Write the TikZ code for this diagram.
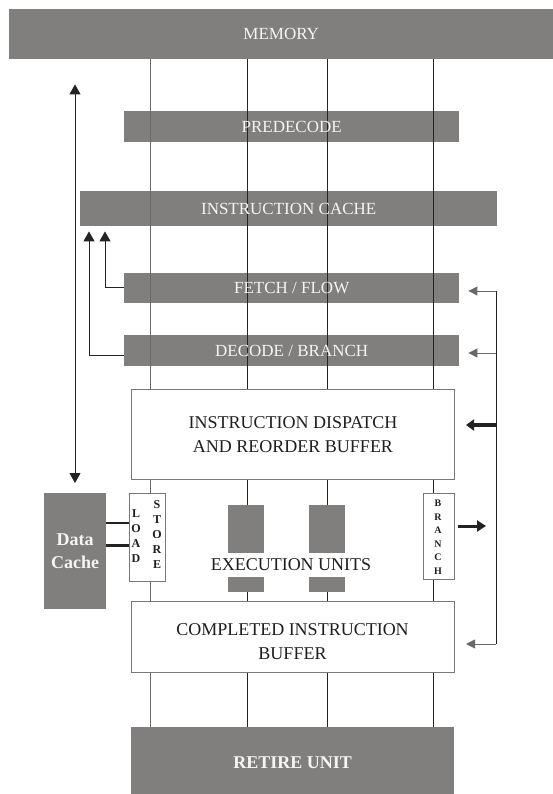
\documentclass[tikz,border=0pt]{standalone}
\usepackage{fontspec}
\setmainfont{Liberation Serif}
\usetikzlibrary{arrows.meta}
\definecolor{boxgray}{RGB}{128,127,125}
\definecolor{wire}{RGB}{35,35,35}
\definecolor{wirelight}{RGB}{105,105,105}
\definecolor{edge}{RGB}{120,120,120}
\definecolor{ink}{RGB}{30,30,30}
\definecolor{paleink}{RGB}{245,245,245}

\begin{document}
\begin{tikzpicture}[x=1pt,y=-1pt,
  graybox/.style={fill=boxgray, draw=none, inner sep=0pt, anchor=north west},
  graytext/.style={inner sep=0pt, text=paleink, font=\fontsize{17}{20}\selectfont},
  whitebox/.style={fill=white, draw=edge, line width=1pt, inner sep=0pt,
    anchor=north west, text=ink, align=center, font=\fontsize{18}{24}\selectfont},
  letters/.style={inner sep=0pt, align=center, text=ink},
  wire/.style={draw=wire, line width=0.9pt},
  wiregray/.style={draw=wirelight, line width=0.9pt},
  arr/.style={wire, -{Triangle[length=9pt,width=9pt]}},
  arrbig/.style={wire, -{Triangle[length=10pt,width=11pt]}},
  arrboth/.style={wire, {Triangle[length=10pt,width=11pt]}-{Triangle[length=10pt,width=11pt]}},
  arrthick/.style={draw=wire, line width=3.5pt, -{Triangle[length=8pt,width=11pt]}},
]
\useasboundingbox (0,0) rectangle (553,794);

% pipeline stages (fills; their labels go on top of the columns below)
\node[graybox, minimum width=544pt, minimum height=50pt] (mem) at (9,9) {};
\node[graybox, minimum width=335pt, minimum height=31pt] (predec) at (124,111) {};
\node[graybox, minimum width=417pt, minimum height=35pt] (icache) at (80,191) {};
\node[graybox, minimum width=335pt, minimum height=30pt] (fetch) at (124,273) {};
\node[graybox, minimum width=335pt, minimum height=31pt] (dec) at (124,335) {};
\node[whitebox, minimum width=323pt, minimum height=90pt] (disp) at (131,389)
  {INSTRUCTION DISPATCH\\AND REORDER BUFFER};

% execution stage
\node[whitebox, minimum width=36pt, minimum height=88pt] (ls) at (129,493) {};
\node[letters, font=\fontsize{12}{15}\selectfont\bfseries] (ldtxt) at (136,536) {L\\O\\A\\D};
\node[letters, font=\fontsize{12}{15}\selectfont\bfseries] (sttxt) at (157,535) {S\\T\\O\\R\\E};
\node[whitebox, minimum width=31pt, minimum height=86pt] (br) at (423,493) {};
\node[letters, font=\fontsize{10}{13.5}\selectfont\bfseries] (brtxt) at (438,537) {B\\R\\A\\N\\C\\H};
\node[graybox, minimum width=36pt, minimum height=48pt] (eua) at (228,505) {};
\node[graybox, minimum width=36pt, minimum height=15pt] (eub) at (228,577) {};
\node[graybox, minimum width=36pt, minimum height=48pt] (euc) at (309,505) {};
\node[graybox, minimum width=36pt, minimum height=15pt] (eud) at (309,577) {};
\node[inner sep=0pt, text=ink, font=\fontsize{18}{20}\selectfont] (eutxt) at (291,565) {EXECUTION UNITS};

\node[graybox, minimum width=62pt, minimum height=116pt, align=center, text=paleink,
  font=\fontsize{18}{23}\selectfont\bfseries] (dc) at (44,493) {Data\\Cache};

% completion and retirement
\node[whitebox, minimum width=323pt, minimum height=71pt] (comp) at (131,601) {};
\node[letters, font=\fontsize{18}{24}\selectfont] (comptxt) at (292.5,642)
  {COMPLETED INSTRUCTION\\BUFFER};
\node[graybox, minimum width=323pt, minimum height=70pt, text=paleink,
  font=\fontsize{18}{22}\selectfont\bfseries] (ret) at (131,727) {RETIRE UNIT};

% data path columns
\coordinate (c1) at (150,0);
\coordinate (c2) at (247,0);
\coordinate (c3) at (327,0);
\coordinate (c4) at (433,0);

\draw[wiregray] (mem.south -| c1) -- (disp.north -| c1);
\draw[wiregray] (disp.south -| c1) -- (ls.north -| c1);
\draw[wiregray] (ls.south -| c1) -- (comp.north -| c1);
\draw[wiregray] (comp.south -| c1) -- (ret.north -| c1);

\draw[wire] (mem.south -| c2) -- (disp.north -| c2);
\draw[wire] (disp.south -| c2) -- (eua.north -| c2);
\draw[wire] (eub.south -| c2) -- (comp.north -| c2);
\draw[wire] (comp.south -| c2) -- (ret.north -| c2);

\draw[wire] (mem.south -| c3) -- (disp.north -| c3);
\draw[wire] (disp.south -| c3) -- (euc.north -| c3);
\draw[wire] (eud.south -| c3) -- (comp.north -| c3);
\draw[wire] (comp.south -| c3) -- (ret.north -| c3);

\draw[wire] (mem.south -| c4) -- (disp.north -| c4);
\draw[wire] (disp.south -| c4) -- (br.north -| c4);
\draw[wire] (br.south -| c4) -- (comp.north -| c4);
\draw[wire] (comp.south -| c4) -- (ret.north -| c4);

% stage labels
\node[graytext] (memtxt) at (mem.center) {MEMORY};
\node[graytext] (predectxt) at (predec.center) {PREDECODE};
\node[graytext] (icachetxt) at (icache.center) {INSTRUCTION CACHE};
\node[graytext] (fetchtxt) at (fetch.center) {FETCH / FLOW};
\node[graytext] (dectxt) at (dec.center) {DECODE / BRANCH};

% memory <-> data cache
\draw[arrboth, shorten <=25pt, shorten >=10pt] (mem.south -| 75,0) -- (dc.north -| 75,0);

% data cache <-> load/store
\draw[draw=wire, line width=2pt] (dc.east |- 0,523) -- (ls.west |- 0,523);
\draw[draw=wire, line width=3pt] (dc.east |- 0,545) -- (ls.west |- 0,545);

% refill paths into the instruction cache
\draw[arrbig, shorten >=5pt] (fetch.west |- 0,287) -| (icache.south -| 105,0);
\draw[arrbig, shorten >=5pt] (dec.west |- 0,355) -| (icache.south -| 89,0);

% branch resolution feedback
\coordinate (busT) at (496,291);
\coordinate (busB) at (496,644);
\coordinate (brout) at (486,526);
\draw[draw=wire, line width=3pt, -{Triangle[length=9pt,width=11pt]}, shorten <=3pt]
  (br.east |- brout) -- (brout);
\draw[wire] (busT) -- (busB);
\draw[arr, draw=wirelight, shorten >=9pt] (busT) -- (fetch.east |- busT);
\draw[arr, draw=wirelight, shorten >=9pt] (busT |- 0,353) -- (dec.east |- 0,353);
\draw[arrthick, shorten >=11pt] (busT |- 0,425) -- (disp.east |- 0,425);
\draw[arr, draw=wirelight, shorten >=11pt] (busB) -- (comp.east |- busB);
\end{tikzpicture}
\end{document}
